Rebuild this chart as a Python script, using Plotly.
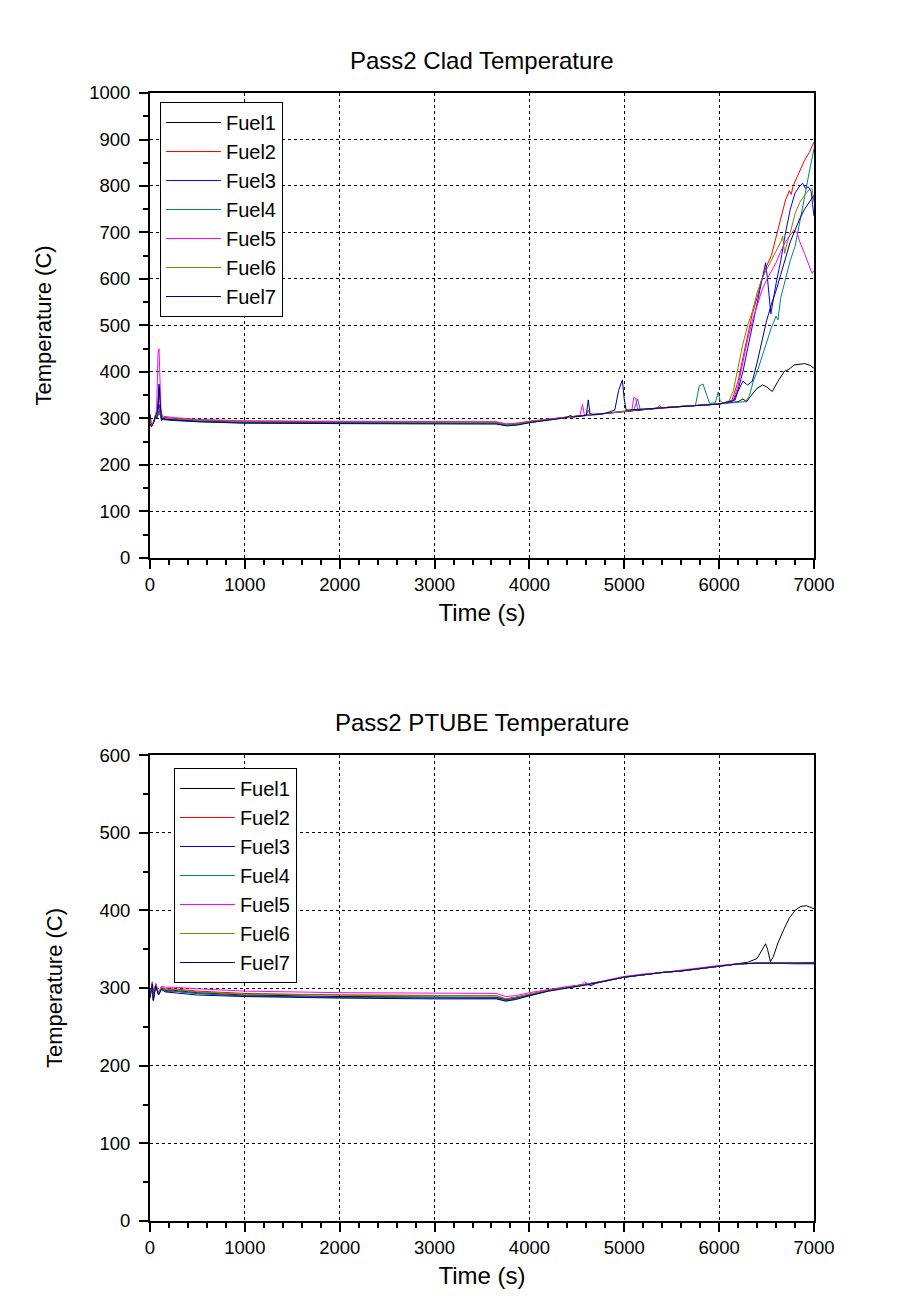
import plotly.graph_objects as go

names = ["Fuel1", "Fuel2", "Fuel3", "Fuel4", "Fuel5", "Fuel6", "Fuel7"]
colors = ["#000000", "#FF0000", "#0000FF", "#008080", "#FF00FF", "#808000", "#000080"]

# ---------------- Pass2 Clad Temperature ----------------
clad_t1 = [0, 15, 35, 55, 75, 90, 100, 112, 130, 170, 300, 600, 1000, 2000, 3000, 3650, 3760, 3880, 4000, 4200, 4400, 4600, 4800, 5000, 5200, 5400, 5600, 5800, 6000, 6100, 6200, 6250, 6290, 6340, 6400, 6460, 6500, 6560, 6620, 6690, 6730, 6790, 6900, 6960, 7000]
clad_y1 = [310, 285, 290, 306, 300, 345, 368, 320, 298, 299, 297, 294, 292, 291, 290, 290, 286, 288, 292, 298, 303, 307, 311, 316, 320, 323, 326, 328, 331, 334, 336, 342, 336, 350, 365, 372, 368, 358, 380, 402, 405, 415, 418, 414, 408]

clad_t2 = [0, 15, 35, 55, 80, 100, 115, 140, 200, 500, 1000, 2000, 3000, 3650, 3760, 3880, 4000, 4200, 4400, 4600, 4800, 5000, 5200, 5350, 5370, 5400, 5600, 5800, 6000, 6130, 6200, 6250, 6300, 6350, 6400, 6450, 6500, 6550, 6600, 6650, 6700, 6740, 6760, 6780, 6850, 6900, 6950, 6980, 7000]
clad_y2 = [295, 283, 292, 303, 308, 318, 302, 303, 301, 297, 294, 293, 292, 292, 288, 290, 294, 299, 303, 307, 311, 316, 320, 322, 328, 323, 326, 328, 331, 336, 380, 430, 480, 525, 560, 600, 628, 650, 690, 730, 770, 790, 782, 800, 830, 855, 872, 888, 895]

clad_t3 = [0, 15, 35, 55, 80, 95, 108, 130, 200, 500, 1000, 2000, 3000, 3650, 3760, 3880, 4000, 4200, 4400, 4600, 4800, 5000, 5200, 5400, 5600, 5800, 6000, 6170, 6250, 6300, 6350, 6400, 6450, 6490, 6510, 6545, 6600, 6650, 6700, 6750, 6800, 6850, 6880, 6910, 6940, 6970, 6985, 7000]
clad_y3 = [292, 284, 291, 302, 306, 330, 308, 299, 298, 295, 292, 291, 290, 290, 286, 288, 292, 298, 303, 307, 311, 316, 320, 323, 326, 328, 331, 340, 400, 450, 500, 550, 595, 635, 600, 525, 590, 640, 700, 750, 785, 800, 806, 795, 798, 788, 760, 735]

clad_t4 = [0, 15, 35, 55, 80, 100, 120, 150, 200, 500, 1000, 2000, 3000, 3650, 3760, 3880, 4000, 4200, 4400, 4600, 4800, 5000, 5100, 5140, 5170, 5200, 5400, 5600, 5750, 5790, 5830, 5870, 5900, 5960, 5990, 6010, 6050, 6200, 6280, 6320, 6360, 6400, 6450, 6500, 6550, 6600, 6620, 6650, 6700, 6750, 6800, 6850, 6900, 6950, 7000]
clad_y4 = [290, 284, 290, 300, 305, 312, 298, 297, 296, 293, 290, 289, 289, 289, 285, 287, 291, 297, 302, 306, 310, 315, 318, 342, 318, 319, 322, 325, 328, 370, 374, 350, 332, 334, 357, 338, 332, 335, 336, 350, 380, 400, 430, 460, 495, 520, 512, 560, 600, 640, 670, 720, 775, 830, 880]

clad_t5 = [0, 15, 35, 55, 70, 85, 95, 105, 115, 130, 160, 250, 500, 1000, 2000, 3000, 3650, 3760, 3880, 4000, 4200, 4400, 4530, 4560, 4580, 4600, 4800, 5000, 5080, 5100, 5120, 5140, 5200, 5400, 5600, 5800, 6000, 6150, 6200, 6250, 6300, 6350, 6400, 6450, 6500, 6550, 6600, 6650, 6700, 6750, 6790, 6820, 6850, 6900, 6950, 6980, 7000]
clad_y5 = [295, 283, 290, 302, 320, 440, 450, 400, 320, 305, 304, 302, 298, 295, 294, 293, 293, 288, 290, 294, 299, 303, 305, 330, 306, 308, 311, 316, 318, 345, 344, 320, 320, 323, 326, 328, 331, 340, 370, 420, 470, 510, 545, 575, 598, 615, 635, 660, 680, 695, 705, 700, 680, 655, 630, 612, 618]

clad_t6 = [0, 15, 35, 55, 80, 100, 112, 130, 200, 500, 1000, 2000, 3000, 3650, 3760, 3880, 4000, 4200, 4400, 4600, 4620, 4640, 4800, 5000, 5200, 5400, 5600, 5800, 6000, 6100, 6150, 6200, 6250, 6300, 6350, 6400, 6450, 6500, 6550, 6600, 6650, 6670, 6690, 6720, 6750, 6800, 6850, 6900, 6950, 6980, 7000]
clad_y6 = [290, 285, 291, 301, 310, 322, 308, 302, 300, 296, 293, 292, 291, 291, 287, 289, 293, 298, 303, 307, 318, 307, 311, 316, 320, 323, 326, 328, 331, 336, 360, 410, 460, 500, 530, 570, 600, 620, 640, 660, 680, 692, 655, 680, 700, 740, 765, 780, 792, 795, 765]

clad_t7 = [0, 15, 35, 55, 80, 95, 105, 120, 140, 200, 500, 1000, 2000, 3000, 3650, 3760, 3880, 4000, 4200, 4400, 4430, 4460, 4600, 4620, 4640, 4700, 4800, 4900, 4940, 4980, 5000, 5020, 5200, 5400, 5600, 5800, 6000, 6150, 6200, 6250, 6300, 6350, 6400, 6450, 6500, 6550, 6600, 6650, 6700, 6750, 6800, 6850, 6900, 6950, 7000]
clad_y7 = [288, 282, 289, 300, 318, 374, 330, 295, 299, 297, 293, 290, 289, 288, 288, 284, 286, 291, 297, 302, 307, 303, 307, 340, 310, 308, 311, 318, 360, 383, 340, 318, 320, 323, 326, 328, 331, 338, 360, 380, 372, 380, 420, 465, 510, 545, 575, 610, 645, 680, 705, 730, 750, 765, 780]

# ---------------- Pass2 PTUBE Temperature ----------------
pt_t1 = [0, 15, 25, 35, 60, 90, 120, 160, 250, 500, 1000, 2000, 3000, 3650, 3750, 3850, 4000, 4200, 4400, 4600, 4800, 5000, 5200, 5400, 5600, 5800, 6000, 6200, 6300, 6400, 6460, 6490, 6510, 6540, 6570, 6620, 6680, 6740, 6800, 6860, 6920, 6970, 7000]
pt_y1 = [290, 302, 306, 286, 304, 293, 300, 297, 297, 294, 291, 289, 288, 288, 285, 287, 291, 297, 301, 305, 309, 314, 317, 320, 322, 325, 328, 331, 333, 338, 350, 357, 350, 334, 340, 358, 375, 390, 400, 405, 406, 404, 402]

pt_t2 = [0, 15, 25, 35, 60, 90, 120, 160, 250, 500, 1000, 2000, 3000, 3650, 3750, 3850, 4000, 4200, 4400, 4600, 4800, 5000, 5200, 5400, 5600, 5800, 6000, 6200, 6400, 6600, 6800, 7000]
pt_y2 = [288, 300, 305, 285, 305, 292, 301, 299, 299, 296, 293, 291, 290, 290, 286, 288, 292, 297, 301, 305, 309, 314, 317, 320, 322, 325, 328, 331, 332, 332, 332, 332]

pt_t3 = [0, 15, 25, 35, 60, 90, 120, 160, 250, 500, 1000, 2000, 3000, 3650, 3750, 3850, 4000, 4200, 4400, 4600, 4650, 4700, 4800, 5000, 5200, 5400, 5600, 5800, 6000, 6200, 6400, 6600, 6800, 7000]
pt_y3 = [291, 303, 307, 284, 303, 291, 299, 296, 296, 293, 290, 288, 287, 287, 284, 286, 291, 297, 301, 305, 303, 306, 309, 314, 317, 320, 322, 325, 328, 331, 332, 332, 332, 333]

pt_t4 = [0, 15, 25, 35, 60, 90, 120, 160, 250, 500, 1000, 2000, 3000, 3650, 3750, 3850, 4000, 4200, 4400, 4600, 4800, 5000, 5200, 5400, 5600, 5800, 6000, 6200, 6400, 6600, 6800, 7000]
pt_y4 = [289, 301, 306, 285, 304, 292, 300, 296, 296, 293, 290, 288, 287, 287, 284, 286, 290, 296, 300, 304, 309, 314, 317, 320, 322, 325, 328, 331, 332, 332, 331, 331]

pt_t5 = [0, 15, 25, 35, 60, 90, 120, 160, 250, 500, 1000, 2000, 3000, 3650, 3750, 3850, 4000, 4200, 4400, 4550, 4580, 4620, 4800, 5000, 5200, 5400, 5600, 5800, 6000, 6200, 6400, 6600, 6800, 7000]
pt_y5 = [292, 303, 308, 287, 306, 294, 302, 301, 301, 299, 296, 294, 293, 293, 289, 290, 294, 298, 302, 304, 308, 305, 310, 315, 318, 320, 323, 326, 329, 331, 332, 332, 332, 332]

pt_t6 = [0, 15, 25, 35, 60, 90, 120, 160, 250, 500, 1000, 2000, 3000, 3650, 3750, 3850, 4000, 4200, 4400, 4600, 4800, 5000, 5200, 5400, 5600, 5800, 6000, 6200, 6400, 6600, 6800, 7000]
pt_y6 = [290, 302, 306, 286, 305, 293, 301, 298, 298, 295, 292, 291, 290, 290, 286, 288, 292, 297, 301, 305, 309, 314, 317, 320, 322, 325, 328, 331, 332, 332, 332, 332]

pt_t7 = [0, 15, 25, 35, 60, 90, 120, 160, 250, 500, 1000, 2000, 3000, 3650, 3750, 3850, 4000, 4200, 4400, 4600, 4800, 5000, 5200, 5400, 5600, 5800, 6000, 6200, 6400, 6600, 6800, 7000]
pt_y7 = [287, 301, 305, 284, 303, 291, 298, 295, 294, 291, 289, 287, 286, 286, 283, 285, 290, 296, 300, 304, 309, 314, 317, 320, 322, 325, 328, 331, 332, 332, 332, 332]

clad_series = [(clad_t1, clad_y1), (clad_t2, clad_y2), (clad_t3, clad_y3), (clad_t4, clad_y4),
               (clad_t5, clad_y5), (clad_t6, clad_y6), (clad_t7, clad_y7)]
pt_series = [(pt_t1, pt_y1), (pt_t2, pt_y2), (pt_t3, pt_y3), (pt_t4, pt_y4),
             (pt_t5, pt_y5), (pt_t6, pt_y6), (pt_t7, pt_y7)]

x_ticks = [0, 1000, 2000, 3000, 4000, 5000, 6000, 7000]

FONT = "Liberation Sans, Arial, sans-serif"

fig = go.Figure()
for (t, y), nm, c in zip(clad_series, names, colors):
    fig.add_trace(go.Scatter(x=t, y=y, mode="lines", name=nm, line=dict(color=c, width=1),
                             xaxis="x", yaxis="y", legend="legend"))
for (t, y), nm, c in zip(pt_series, names, colors):
    fig.add_trace(go.Scatter(x=t, y=y, mode="lines", name=nm, line=dict(color=c, width=1),
                             xaxis="x2", yaxis="y2", legend="legend2"))

def xax(anchor):
    return dict(domain=[0, 1], range=[0, 7000], anchor=anchor, tickvals=x_ticks,
                ticks="outside", ticklen=9, tickwidth=2, tickcolor="black",
                showline=True, linecolor="black", linewidth=2, mirror=True,
                showgrid=True, gridcolor="black", gridwidth=1, griddash="dot", zeroline=False,
                tickfont=dict(size=18.5, family=FONT, color="black"),
                minor=dict(dtick=200, tick0=0, ticks="outside", ticklen=5, tickwidth=2,
                           tickcolor="black", showgrid=False),
                title=dict(text="Time (s)", font=dict(size=24, family=FONT, color="black"), standoff=10))

def yax(anchor, domain, rng):
    return dict(domain=domain, range=rng, anchor=anchor, dtick=100, tick0=0,
                ticks="outside", ticklen=9, tickwidth=2, tickcolor="black",
                showline=True, linecolor="black", linewidth=2, mirror=True,
                showgrid=True, gridcolor="black", gridwidth=1, griddash="dot", zeroline=False,
                tickfont=dict(size=18.5, family=FONT, color="black"), ticklabelstandoff=5,
                minor=dict(dtick=50, tick0=0, ticks="outside", ticklen=5, tickwidth=2,
                           tickcolor="black", showgrid=False),
                title=dict(text="Temperature (C)", font=dict(size=22, family=FONT, color="black"), standoff=31))

leg_common = dict(xanchor="left", yanchor="top", bgcolor="white", bordercolor="black", borderwidth=1,
                  font=dict(size=20, family=FONT, color="black"), tracegroupgap=0, itemwidth=55)

fig.update_layout(
    width=914, height=1314,
    margin=dict(l=142, r=108, t=85, b=101),
    paper_bgcolor="white", plot_bgcolor="white",
    font=dict(family=FONT, color="black"),
    xaxis=xax("y"),
    yaxis=yax("x", [0.5878, 1.0], [0, 1000]),
    xaxis2=xax("y2"),
    yaxis2=yax("x2", [0.0, 0.4131], [0, 600]),
    legend=dict(x=0.015, y=0.992, **leg_common),
    legend2=dict(x=0.036, y=0.4016, **leg_common),
    annotations=[
        dict(text="Pass2 Clad Temperature", x=0.5, y=1.029, xref="paper", yref="paper",
             xanchor="center", yanchor="middle", showarrow=False,
             font=dict(size=24, family=FONT, color="black")),
        dict(text="Pass2 PTUBE Temperature", x=0.5, y=0.442, xref="paper", yref="paper",
             xanchor="center", yanchor="middle", showarrow=False,
             font=dict(size=24, family=FONT, color="black")),
    ],
    showlegend=True,
)

fig.write_html("out.html")
